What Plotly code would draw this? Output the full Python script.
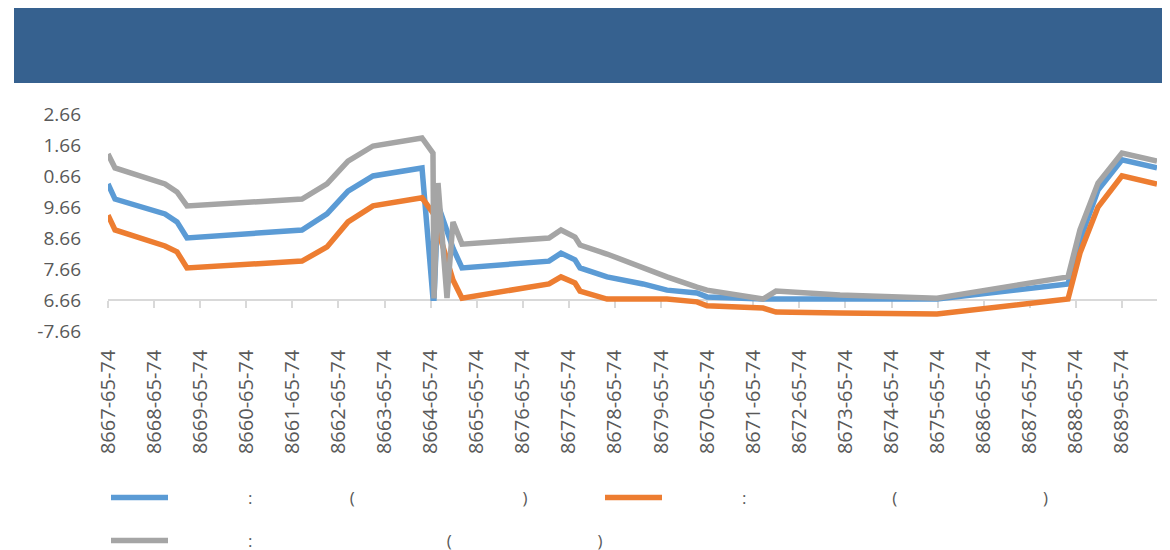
import plotly.graph_objects as go

# ---- data ----
x_labels = ["8667-65-74", "8668-65-74", "8669-65-74", "8660-65-74", "8661-65-74",
            "8662-65-74", "8663-65-74", "8664-65-74", "8665-65-74", "8676-65-74",
            "8677-65-74", "8678-65-74", "8679-65-74", "8670-65-74", "8671-65-74",
            "8672-65-74", "8673-65-74", "8674-65-74", "8675-65-74", "8686-65-74",
            "8687-65-74", "8688-65-74", "8689-65-74"]
tick_pos = list(range(len(x_labels)))

y_tick_vals = [-1, 0, 1, 2, 3, 4, 5, 6]
y_tick_text = ["-7.66", "6.66", "7.66", "8.66", "9.66", "0.66", "1.66", "2.66"]

# x positions of the observations, in label-step units
x_pos = [0, 0.152, 1.237, 1.497, 1.714, 4.209, 4.752, 5.207, 5.750, 6.813,
         7.051, 7.073, 7.160, 7.355, 7.485, 7.681, 9.568, 9.829, 10.132, 10.241,
         10.827, 11.608, 12.128, 12.779, 12.996, 14.211, 14.493, 15.882, 17.986,
         20.829, 21.089, 21.480, 22.000, 22.760]

series_blue = [3.76, 3.27, 2.79, 2.53, 2.01, 2.27, 2.79, 3.53, 4.02, 4.28,
               0.06, 0.06, 3.08, 2.17, 1.68, 1.04, 1.26, 1.52, 1.30, 1.04,
               0.75, 0.52, 0.32, 0.23, 0.10, 0.03, 0.03, 0.03, 0.03,
               0.52, 1.94, 3.56, 4.54, 4.28]
series_orange = [2.75, 2.27, 1.75, 1.56, 1.04, 1.26, 1.72, 2.53, 3.05, 3.31,
                 2.82, 2.75, 2.27, 1.23, 0.65, 0.06, 0.52, 0.75, 0.55, 0.29,
                 0.03, 0.03, 0.03, -0.06, -0.19, -0.26, -0.39, -0.42, -0.45,
                 0.03, 1.52, 3.01, 4.02, 3.76]
series_gray = [4.73, 4.28, 3.76, 3.50, 3.05, 3.27, 3.76, 4.50, 4.99, 5.25,
               4.76, 0.05, 3.79, 0.06, 2.53, 1.81, 2.01, 2.27, 2.04, 1.78,
               1.49, 1.04, 0.75, 0.42, 0.32, 0.03, 0.29, 0.16, 0.06,
               0.75, 2.27, 3.79, 4.76, 4.50]

NB = "\u00a0"
name_blue = NB * 17 + ":" + NB * 22 + "(" + NB * 38 + ")"
name_orange = NB * 17 + ":" + NB * 33 + "(" + NB * 33 + ")"
name_gray = NB * 17 + ":" + NB * 44 + "(" + NB * 33 + ")"

# ---- geometry (figure pixels; page adds an 8px body margin) ----
W, H = 1170, 550
L, R, T, B = 100, 21, 97, 223
PW, PH = W - L - R, H - T - B
axis_y = 292           # figure-pixel y of the value-0 line
unit_px = 30.86        # pixels per y unit

def px_x(p):
    return (p - L) / PW

def px_y(p):
    return (H - B - p) / PH

TXT = "#595959"
FONT = "Open Sans"
LW = 5.5

fig = go.Figure()
fig.add_trace(go.Scatter(x=x_pos, y=series_blue, mode="lines", name=name_blue,
                         line=dict(color="#5B9BD5", width=LW), legend="legend"))
fig.add_trace(go.Scatter(x=x_pos, y=series_orange, mode="lines", name=name_orange,
                         line=dict(color="#ED7D31", width=LW), legend="legend2"))
fig.add_trace(go.Scatter(x=x_pos, y=series_gray, mode="lines", name=name_gray,
                         line=dict(color="#A5A5A5", width=LW), legend="legend3"))

leg_common = dict(font=dict(family=FONT, size=17, color=TXT), bgcolor="rgba(0,0,0,0)",
                  xanchor="left", yanchor="middle", borderwidth=0, itemwidth=57,
                  xref="container", yref="container")
fig.update_layout(
    width=W, height=H,
    margin=dict(l=L, r=R, t=T, b=B, pad=0, autoexpand=False),
    paper_bgcolor="white", plot_bgcolor="white",
    showlegend=True,
    legend=dict(x=98 / W, y=(H - 490) / H, **leg_common),
    legend2=dict(x=592 / W, y=(H - 490) / H, **leg_common),
    legend3=dict(x=98 / W, y=(H - 533) / H, **leg_common),
    xaxis=dict(range=[0, 22.76], tickmode="array", tickvals=tick_pos, ticktext=x_labels,
               tickangle=-90, anchor="free", position=px_y(axis_y),
               showline=True, linecolor="#D9D9D9", linewidth=1.5,
               ticks="outside", ticklen=7, tickcolor="#D9D9D9", tickwidth=1.5,
               showgrid=False, zeroline=False, layer="below traces",
               ticklabelstandoff=34,
               tickfont=dict(family=FONT, size=20, color=TXT)),
    yaxis=dict(range=[-(H - B - axis_y) / unit_px, (axis_y - T) / unit_px],
               tickmode="array", tickvals=y_tick_vals, ticktext=y_tick_text,
               showgrid=False, zeroline=False, showline=False, ticks="",
               ticklabelstandoff=26,
               tickfont=dict(family=FONT, size=19, color=TXT)),
    shapes=[dict(type="rect", xref="paper", yref="paper",
                 x0=px_x(6), x1=px_x(1175), y0=px_y(75), y1=px_y(0),
                 fillcolor="#36618F", line=dict(width=0), layer="above")],
)

fig.write_html("out.html")
